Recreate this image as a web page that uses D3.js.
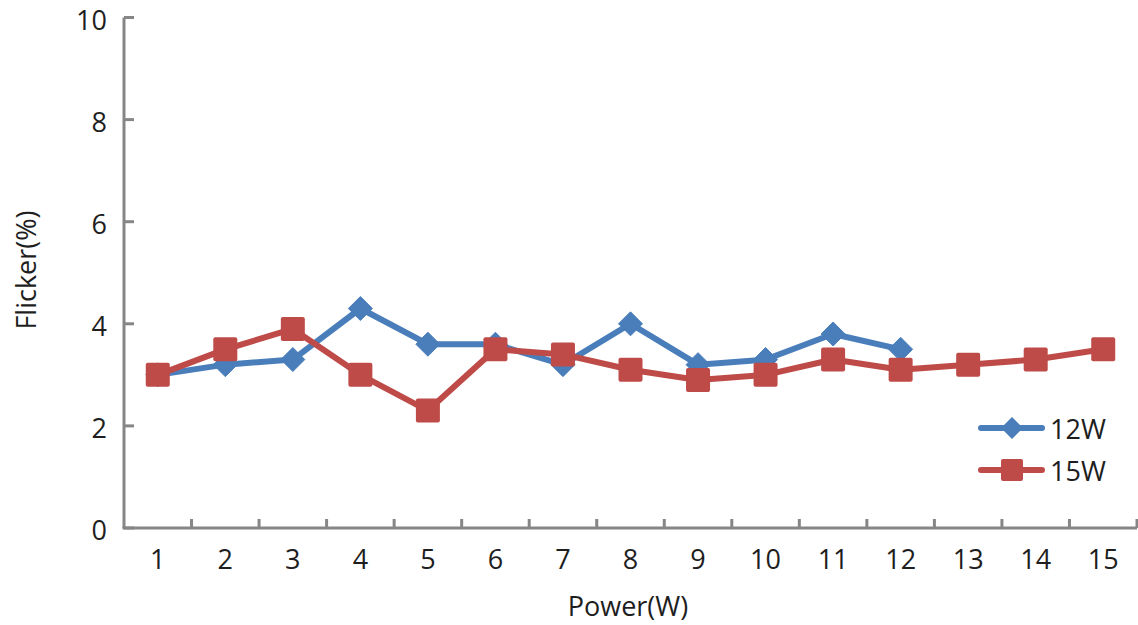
<!DOCTYPE html>
<html><head><meta charset="utf-8">
<script src="https://cdn.jsdelivr.net/npm/d3@7"></script>
<style>body{margin:0;background:#fff}svg{display:block}text{font-family:"Open Sans","Noto Sans",sans-serif;fill:#1e1e1e}</style>
</head><body>
<svg id="c" width="1138" height="625"></svg>
<script>
const categories = [1,2,3,4,5,6,7,8,9,10,11,12,13,14,15];
const s12 = [3.0,3.2,3.3,4.3,3.6,3.6,3.2,4.0,3.2,3.3,3.8,3.5];
const s15 = [3.0,3.5,3.9,3.0,2.3,3.5,3.4,3.1,2.9,3.0,3.3,3.1,3.2,3.3,3.5];
const yTicks = [0,2,4,6,8,10];
const seriesNames = ["12W","15W"];

const svg = d3.select("#c");
const L=124, R=1137, T=17.5, B=528;
const x = d3.scaleBand().domain(categories).range([L,R]);
const y = d3.scaleLinear().domain([0,10]).range([B,T]);
const axisCol="#868686";

// axes
svg.append("line").attr("x1",L).attr("x2",L).attr("y1",T).attr("y2",B).attr("stroke",axisCol).attr("stroke-width",3);
svg.append("line").attr("x1",L-1.5).attr("x2",R).attr("y1",B).attr("y2",B).attr("stroke",axisCol).attr("stroke-width",3);
yTicks.forEach(t=>{
  svg.append("line").attr("x1",L).attr("x2",L+10).attr("y1",y(t)).attr("y2",y(t)).attr("stroke",axisCol).attr("stroke-width",3);
  svg.append("text").attr("x",L-17).attr("y",y(t)+2.5).attr("dy","0.36em").attr("text-anchor","end").attr("font-size",27).text(t);
});
const bounds = categories.map(c=>x(c)).concat([R]);
bounds.slice(1).forEach(b=>{
  svg.append("line").attr("x1",b).attr("x2",b).attr("y1",B).attr("y2",B-9).attr("stroke",axisCol).attr("stroke-width",3);
});
categories.forEach(c=>{
  svg.append("text").attr("x",x(c)+x.bandwidth()/2).attr("y",569).attr("text-anchor","middle").attr("font-size",27).text(c);
});
svg.append("text").attr("x",628).attr("y",616).attr("text-anchor","middle").attr("font-size",27).text("Power(W)");
svg.append("text").attr("transform","translate(36,270) rotate(-90)").attr("text-anchor","middle").attr("font-size",27).text("Flicker(%)");

const cx = i=>x(categories[i])+x.bandwidth()/2;
const line = d3.line().x((d,i)=>cx(i)).y(d=>y(d));
const blue="#4a7ebb", red="#be4b48";

svg.append("path").attr("d",line(s12)).attr("fill","none").attr("stroke",blue).attr("stroke-width",6).attr("stroke-linejoin","round");
svg.selectAll(".d").data(s12).enter().append("path")
  .attr("d","M0,-12L12,0L0,12L-12,0Z").attr("transform",(d,i)=>`translate(${cx(i)},${y(d)})`).attr("fill",blue).attr("stroke",blue).attr("stroke-width",1).attr("stroke-linejoin","round");

svg.append("path").attr("d",line(s15)).attr("fill","none").attr("stroke",red).attr("stroke-width",6).attr("stroke-linejoin","round");
svg.selectAll(".s").data(s15).enter().append("rect")
  .attr("x",(d,i)=>cx(i)-12).attr("y",d=>y(d)-12).attr("width",24).attr("height",24).attr("rx",2).attr("fill",red);

// legend
const lg=[{n:seriesNames[0],c:blue,y:428,m:"d"},{n:seriesNames[1],c:red,y:470,m:"s"}];
lg.forEach(l=>{
  svg.append("line").attr("x1",981).attr("x2",1042).attr("y1",l.y).attr("y2",l.y).attr("stroke",l.c).attr("stroke-width",6).attr("stroke-linecap","round");
  if(l.m==="d") svg.append("path").attr("d","M0,-11L11,0L0,11L-11,0Z").attr("transform",`translate(1012,${l.y})`).attr("fill",l.c);
  else svg.append("rect").attr("x",1001).attr("y",l.y-11).attr("width",22).attr("height",22).attr("rx",2).attr("fill",l.c);
  svg.append("text").attr("x",1050).attr("y",l.y+11).attr("font-size",27).text(l.n);
});
</script>
</body></html>
